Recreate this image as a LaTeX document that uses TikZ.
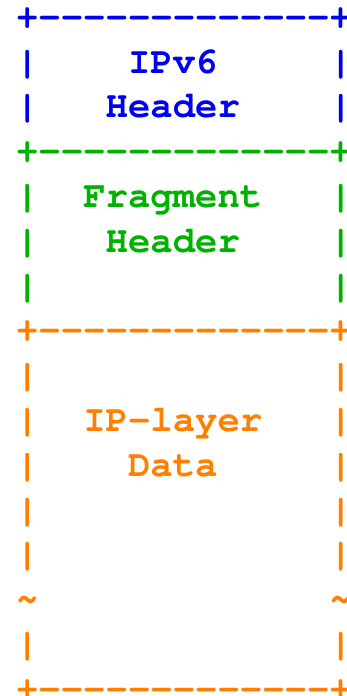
\documentclass[tikz,border=0pt]{standalone}
\usepackage[T1]{fontenc}
\definecolor{hblue}{RGB}{0,0,240}
\definecolor{hgreen}{RGB}{0,178,0}
\definecolor{horange}{RGB}{255,128,0}
\tikzset{
  ch/.style={anchor=base west, inner sep=0pt, outer sep=0pt,
    font=\fontencoding{T1}\fontfamily{pcr}\fontseries{b}\fontsize{37.3}{44.8}\selectfont},
}
% \asc{name}{column}{row}{colour}{text}
\newcommand\asc[5]{\node[ch,text=#4] (#1) at ({16.1+22.39*#2},{667.7-44.8*#3}) {#5};}
\begin{document}
\begin{tikzpicture}[x=1pt,y=1pt]
\useasboundingbox (0,0) rectangle (347,696);
% IPv6 header
\asc{b0}{0}{0}{hblue}{+{-}{-}{-}{-}{-}{-}{-}{-}{-}{-}{-}{-}{-}+}
\asc{b1l}{0}{1}{hblue}{|}
\asc{b1t}{5}{1}{hblue}{IPv6}
\asc{b1r}{14}{1}{hblue}{|}
\asc{b2l}{0}{2}{hblue}{|}
\asc{b2t}{4}{2}{hblue}{Header}
\asc{b2r}{14}{2}{hblue}{|}
% Fragment header
\asc{g3}{0}{3}{hgreen}{+{-}{-}{-}{-}{-}{-}{-}{-}{-}{-}{-}{-}{-}+}
\asc{g4l}{0}{4}{hgreen}{|}
\asc{g4t}{3}{4}{hgreen}{Fragment}
\asc{g4r}{14}{4}{hgreen}{|}
\asc{g5l}{0}{5}{hgreen}{|}
\asc{g5t}{4}{5}{hgreen}{Header}
\asc{g5r}{14}{5}{hgreen}{|}
\asc{g6l}{0}{6}{hgreen}{|}
\asc{g6r}{14}{6}{hgreen}{|}
% IP-layer data
\asc{o7}{0}{7}{horange}{+{-}{-}{-}{-}{-}{-}{-}{-}{-}{-}{-}{-}{-}+}
\asc{o8l}{0}{8}{horange}{|}
\asc{o8r}{14}{8}{horange}{|}
\asc{o9l}{0}{9}{horange}{|}
\asc{o9t}{3}{9}{horange}{IP-layer}
\asc{o9r}{14}{9}{horange}{|}
\asc{o10l}{0}{10}{horange}{|}
\asc{o10t}{5}{10}{horange}{Data}
\asc{o10r}{14}{10}{horange}{|}
\asc{o11l}{0}{11}{horange}{|}
\asc{o11r}{14}{11}{horange}{|}
\asc{o12l}{0}{12}{horange}{|}
\asc{o12r}{14}{12}{horange}{|}
\asc{o13l}{0}{13}{horange}{\textasciitilde}
\asc{o13r}{14}{13}{horange}{\textasciitilde}
\asc{o14l}{0}{14}{horange}{|}
\asc{o14r}{14}{14}{horange}{|}
\asc{o15}{0}{15}{horange}{+{-}{-}{-}{-}{-}{-}{-}{-}{-}{-}{-}{-}{-}+}
\end{tikzpicture}
\end{document}
